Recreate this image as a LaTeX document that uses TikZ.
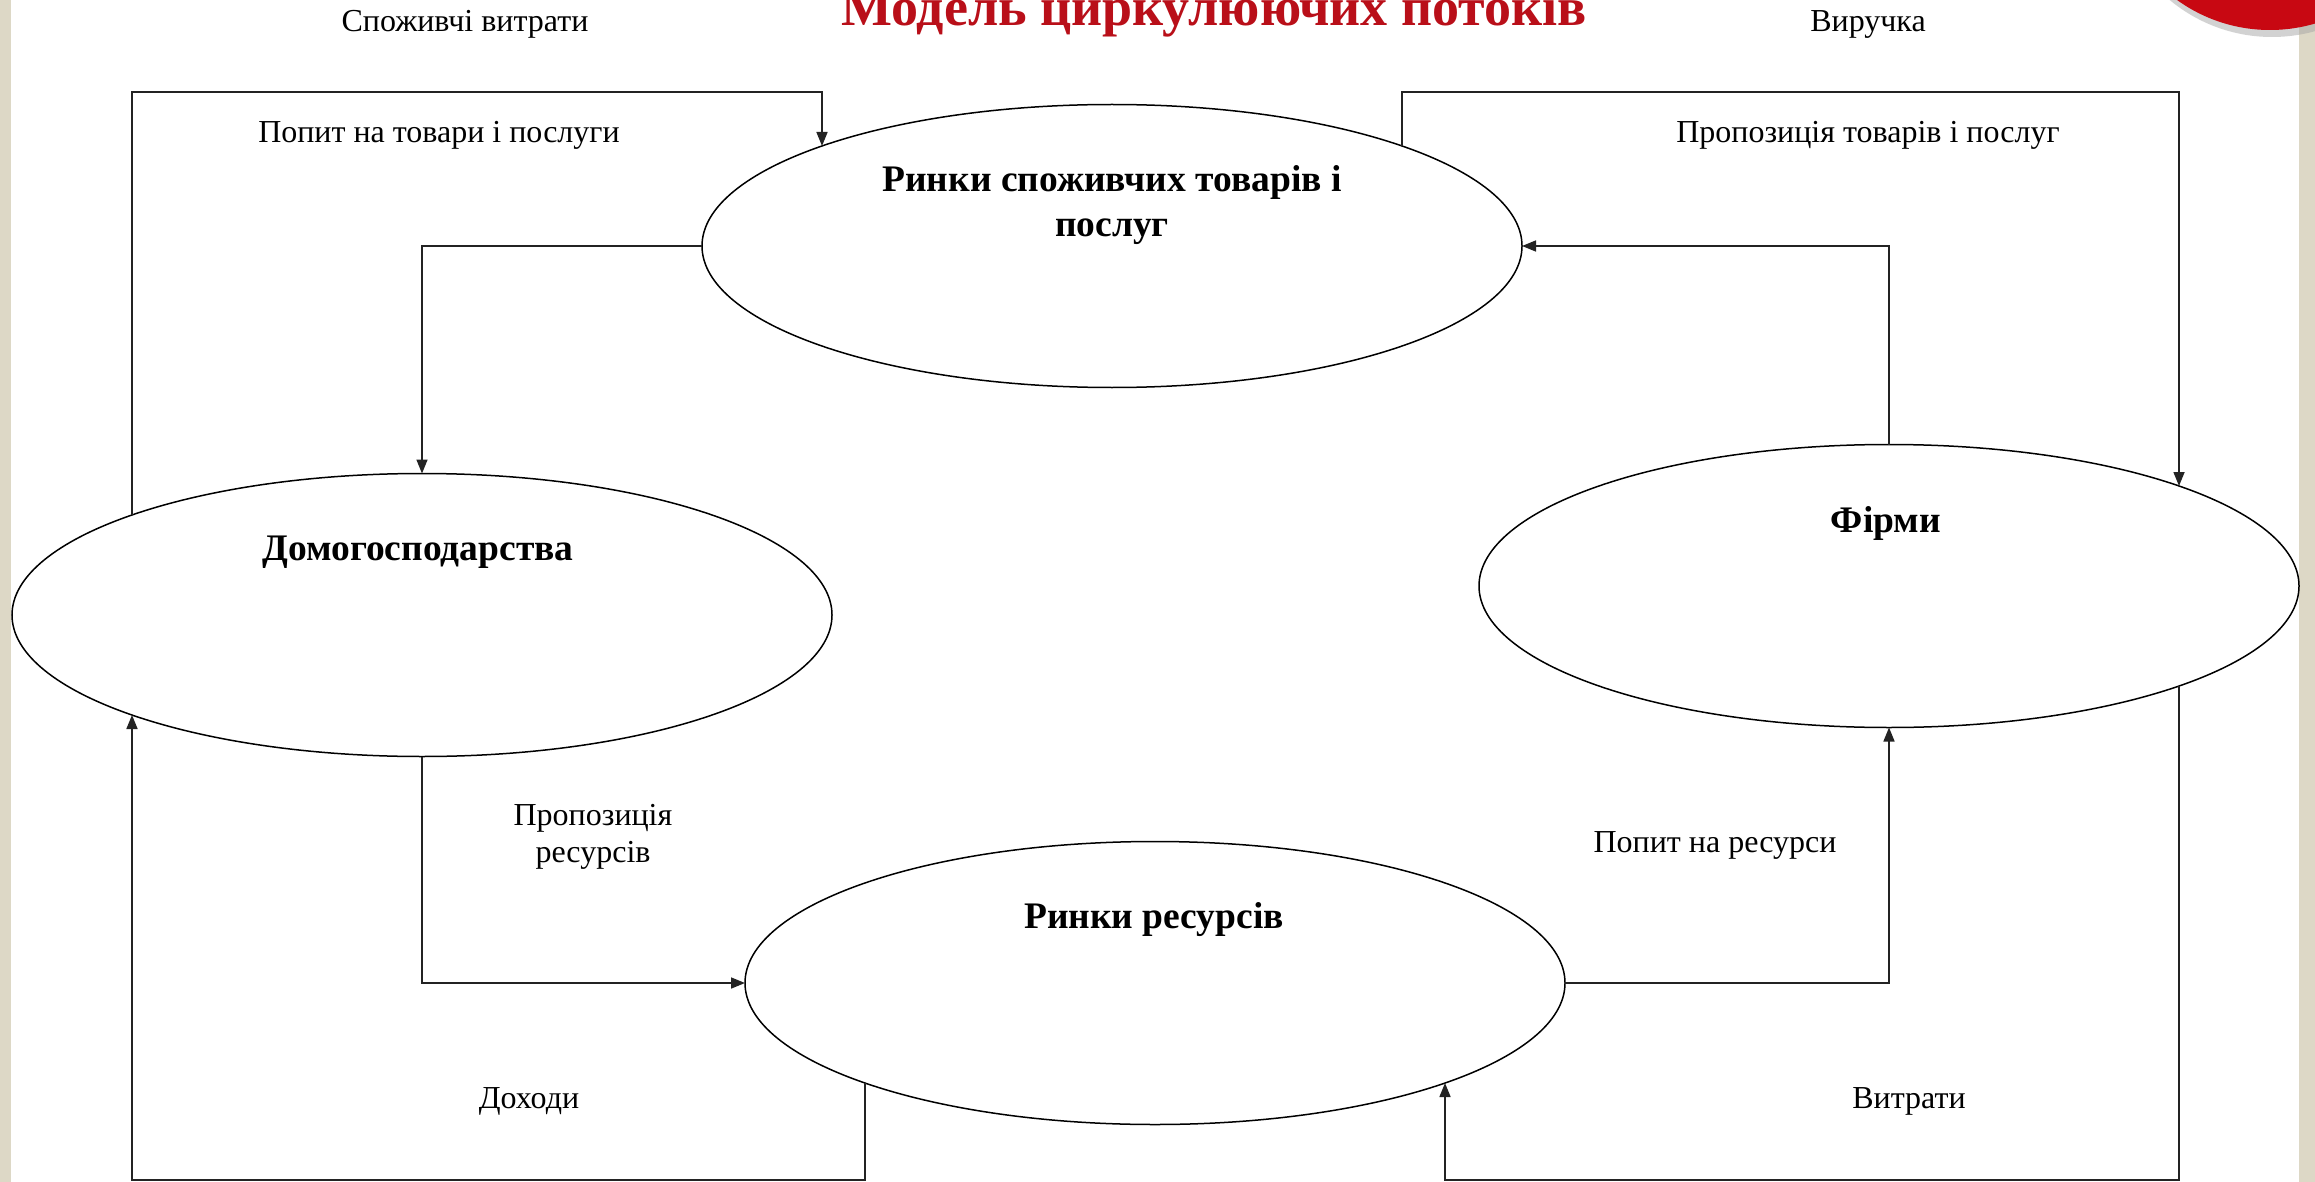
\documentclass[tikz,border=0pt]{standalone}
\usepackage{fontspec}
\setmainfont{Liberation Serif}
\usetikzlibrary{arrows.meta,shapes.geometric,calc}
\definecolor{beige}{RGB}{221,216,198}
\definecolor{titlered}{RGB}{185,15,25}
\definecolor{decored}{RGB}{200,8,18}
\definecolor{linegray}{RGB}{35,35,35}
\begin{document}
\begin{tikzpicture}[x=1pt,y=-1pt,
  market/.style={ellipse, draw=black, line width=1.5pt, minimum width=820pt, minimum height=283pt, inner sep=0pt, outer sep=0pt},
  flow/.style={draw=linegray, line width=1.6pt, -{Triangle[length=14pt,width=11pt]}},
  lbl/.style={font=\fontsize{32}{38}\selectfont, anchor=base, inner sep=0pt},
  blbl/.style={font=\fontsize{37.5}{44}\selectfont\bfseries, anchor=base, inner sep=0pt}]
\useasboundingbox (0,0) rectangle (2315,1182);
\begin{scope}
\clip (0,0) rectangle (2315,1182);
\fill[white] (0,0) rectangle (2315,1182);
\fill[beige] (0,0) rectangle (11,1182);
\fill[beige] (2299,0) rectangle (2315,1182);
\fill[black!35, opacity=0.5] (2272,-123) circle[radius=160];
\fill[decored] (2270,-129) circle[radius=159];
\end{scope}

% title
\node[anchor=base, inner sep=0pt, text=titlered, font=\fontsize{54}{64}\selectfont\bfseries] (title) at (1214,26) {Модель циркулюючих потоків};

% markets
\node[market] (cons) at (1112,246) {};
\node[market] (house) at (422,615) {};
\node[market] (firm) at (1889,586) {};
\node[market] (res) at (1155,983) {};

% bold labels
\node[blbl] (consA) at (1112,192) {Ринки споживчих товарів і};
\node[blbl] (consB) at (1112,237) {послуг};
\node[blbl] (houseL) at (418,560) {Домогосподарства};
\node[blbl] (firmL) at (1886,532) {Фірми};
\node[blbl] (resL) at (1154,928) {Ринки ресурсів};

% flow labels
\node[lbl] (l1) at (465,32) {Споживчі витрати};
\node[lbl] (l2) at (1868,32) {Виручка};
\node[lbl] (l3) at (439,143) {Попит на товари і послуги};
\node[lbl] (l4) at (1868,143) {Пропозиція товарів і послуг};
\node[lbl] (l5a) at (593,825) {Пропозиція};
\node[lbl] (l5b) at (593,862) {ресурсів};
\node[lbl] (l6) at (1715,852) {Попит на ресурси};
\node[lbl] (l7) at (529,1108) {Доходи};
\node[lbl] (l8) at (1909,1108) {Витрати};

% corner coordinates
\coordinate (tl1) at (132,92);
\coordinate (tl2) at (822,92);
\coordinate (tr1) at (1402,92);
\coordinate (tr2) at (2179,92);
\coordinate (bl1) at (865,1180);
\coordinate (bl2) at (132,1180);
\coordinate (br1) at (2179,1180);
\coordinate (br2) at (1445,1180);

% inner flows
\draw[flow] (cons.west) -| (house.north);
\draw[flow] (house.south) |- (res.west);
\draw[flow] (res.east) -| (firm.south);
\draw[flow] (firm.north) |- (cons.east);

% outer money flows
\draw[flow] ($(house.center)+(-290,-100)$) -- (tl1) -- (tl2) -- ($(cons.center)+(-290,-100)$);
\draw[flow] ($(cons.center)+(290,-100)$) -- (tr1) -- (tr2) -- ($(firm.center)+(290,-100)$);
\draw[flow] ($(res.center)+(-290,100)$) -- (bl1) -- (bl2) -- ($(house.center)+(-290,100)$);
\draw[flow] ($(firm.center)+(290,100)$) -- (br1) -- (br2) -- ($(res.center)+(290,100)$);
\end{tikzpicture}
\end{document}
